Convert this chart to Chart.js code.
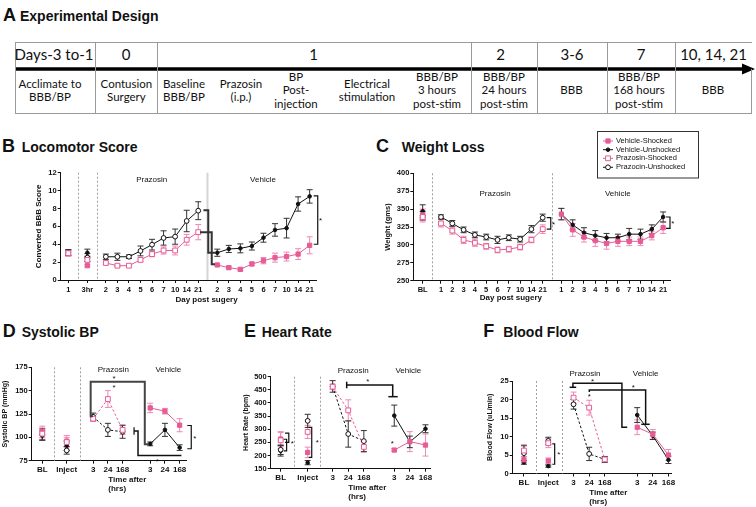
<!DOCTYPE html>
<html><head><meta charset="utf-8">
<script src="https://cdn.jsdelivr.net/npm/chart.js@4.4.0/dist/chart.umd.min.js"></script>
<style>
html,body{margin:0;padding:0;background:#fff;}
body{width:756px;height:507px;position:relative;overflow:hidden;font-family:"Liberation Sans",Arial,sans-serif;color:#111;}
.pl{position:absolute;font-weight:bold;font-size:18px;line-height:20px;white-space:nowrap;}
.pn{position:absolute;font-weight:bold;font-size:14px;line-height:20px;white-space:nowrap;}
.ln{position:absolute;background:#9a9a9a;}
.cell{position:absolute;display:flex;align-items:center;justify-content:center;text-align:center;font-family:Lato,"Liberation Sans",sans-serif;color:#111;}
canvas{position:absolute;}
</style></head><body>
<div class="pl" style="left:3px;top:4.8px">A</div><div class="pn" style="left:20px;top:6.2px">Experimental Design</div>
<div class="pl" style="left:2px;top:135.8px">B</div><div class="pn" style="left:21.7px;top:137.2px">Locomotor Score</div>
<div class="pl" style="left:376px;top:135.8px">C</div><div class="pn" style="left:401.7px;top:137.2px">Weight Loss</div>
<div class="pl" style="left:2.7px;top:320.8px">D</div><div class="pn" style="left:21.7px;top:322.2px">Systolic BP</div>
<div class="pl" style="left:244px;top:320.8px">E</div><div class="pn" style="left:261.7px;top:322.2px">Heart Rate</div>
<div class="pl" style="left:483.3px;top:320.8px">F</div><div class="pn" style="left:503.3px;top:322.2px">Blood Flow</div>
<svg style="position:absolute;left:0;top:0" width="756" height="120">
<line x1="15" y1="69" x2="744" y2="69" stroke="#000" stroke-width="3.5"/>
<polygon points="742,63.5 755,69 742,74.5" fill="#000"/>
</svg>
<script>
// ================= DATA =================
// Panel A timeline
const tlTop = ['Days-3 to-1','0','1','2','3-6','7','10, 14, 21'];
const tlBottom = ['Acclimate to<br>BBB/BP','Contusion<br>Surgery','Baseline<br>BBB/BP','Prazosin<br>(i.p.)','BP<br>Post-<br>injection','Electrical<br>stimulation','BBB/BP<br>3 hours<br>post-stim','BBB/BP<br>24 hours<br>post-stim','BBB','BBB/BP<br>168 hours<br>post-stim','BBB'];

// Legend
const seriesNames = ['Vehicle-Shocked','Vehicle-Unshocked','Prazosin-Shocked','Prazocin-Unshocked'];

// Panel B: Converted BBB score
const bBaseLabels = ['1','3hr'];
const bDayLabels = ['2','3','4','5','6','7','10','14','21'];
const bVehShkBase = [3.0, 1.6];   const bVehShkBaseErr = [0.35, 0.12];
const bVehUnBase  = [3.1, 3.05];  const bVehUnBaseErr  = [0.3, 0.4];
const bPrzShkBase = [3.0, 2.25];  const bPrzShkBaseErr = [0.3, 0.2];
const bPrzUnBase  = [3.05, 2.5];  const bPrzUnBaseErr  = [0.3, 0.45];
const bPrzUn  = [2.6, 2.6, 2.6, 3.25, 3.95, 4.7, 4.85, 6.6, 7.75];
const bPrzUnErr  = [0.3, 0.4, 0.2, 0.55, 0.6, 0.8, 0.85, 1.2, 1.0];
const bPrzShk = [1.9, 1.6, 1.6, 2.25, 2.9, 3.3, 3.3, 4.5, 5.35];
const bPrzShkErr = [0.15, 0.1, 0.1, 0.2, 0.3, 0.4, 0.5, 0.6, 0.85];
const bVehUn  = [3.05, 3.47, 3.54, 3.8, 4.73, 5.6, 5.8, 8.5, 9.35];
const bVehUnErr  = [0.4, 0.4, 0.5, 0.45, 0.5, 0.7, 1.1, 0.8, 0.75];
const bVehShk = [1.68, 1.38, 1.19, 1.79, 2.16, 2.5, 2.62, 2.9, 3.88];
const bVehShkErr = [0.1, 0.15, 0.15, 0.2, 0.35, 0.5, 0.5, 0.6, 0.95];

// Panel C: Weight (gms)
const cBaseLabels = ['BL'];
const cDayLabels = ['1','2','3','4','5','6','7','10','14','21'];
const cVehShkBase = [342]; const cVehShkBaseErr = [8];
const cVehUnBase  = [347]; const cVehUnBaseErr  = [9];
const cPrzShkBase = [339]; const cPrzShkBaseErr = [7];
const cPrzUnBase  = [341]; const cPrzUnBaseErr  = [6];
const cPrzUn  = [339, 330, 321, 314, 311, 307, 310, 308, 322, 338];
const cPrzUnErr  = [3, 4, 4, 4, 4, 5, 4, 4, 5, 5];
const cPrzShk = [330, 320, 307, 303, 298, 293, 294, 297, 307, 322];
const cPrzShkErr = [5, 5, 5, 5, 4, 4, 4, 4, 4, 6];
const cVehUn  = [343, 328, 317, 313, 310, 310, 315, 315, 322, 339];
const cVehUnErr  = [8, 7, 7, 7, 6, 5, 8, 7, 6, 7];
const cVehShk = [343, 321, 311, 306, 302, 305, 305, 305, 313, 324];
const cVehShkErr = [8, 9, 7, 8, 8, 7, 6, 6, 6, 8];

// Shared labels for D, E, F
const hBaseLabels = ['BL','Inject'];
const hLabels = ['3','24','168'];

// Panel D: Systolic BP (mmHg)
const dVehShkBase = [106, 96];  const dVehShkBaseErr = [6, 6];
const dVehUnBase  = [102, 91];  const dVehUnBaseErr  = [5, 5];
const dPrzShkBase = [104, 95];  const dPrzShkBaseErr = [6, 5];
const dPrzUnBase  = [103, 86];  const dPrzUnBaseErr  = [6, 4];
const dPrzUn  = [122, 108, 106]; const dPrzUnErr  = [4, 7, 7];
const dPrzShk = [120, 141, 108]; const dPrzShkErr = [3, 9, 5];
const dVehShk = [131.5, 128, 113]; const dVehShkErr = [5, 3, 7];
const dVehUn  = [93, 108, 89];   const dVehUnErr  = [2, 7, 3];

// Panel E: Heart Rate (bpm)
const eVehShkBase = [263, 212]; const eVehShkBaseErr = [28, 20];
const eVehUnBase  = [218, 173]; const eVehUnBaseErr  = [20, 8];
const ePrzShkBase = [258, 290]; const ePrzShkBaseErr = [30, 25];
const ePrzUnBase  = [222, 332]; const ePrzUnBaseErr  = [18, 25];
const ePrzUn  = [463, 282, 255]; const ePrzUnErr  = [22, 50, 40];
const ePrzShk = [462, 372, 233]; const ePrzShkErr = [10, 40, 20];
const eVehUn  = [352, 252, 302]; const eVehUnErr  = [40, 22, 15];
const eVehShk = [221, 253, 240]; const eVehShkErr = [5, 38, 42];

// Panel F: Blood Flow (uL/min)
const fVehShkBase = [3.7, 3.4]; const fVehShkBaseErr = [0.8, 0.8];
const fVehUnBase  = [3.0, 2.0]; const fVehUnBaseErr  = [0.5, 0.3];
const fPrzShkBase = [6.2, 8.2]; const fPrzShkBaseErr = [1.6, 1.2];
const fPrzUnBase  = [5.5, 8.8]; const fPrzUnBaseErr  = [2.0, 1.0];
const fPrzUn  = [18.7, 5.3, 3.8];  const fPrzUnErr  = [1.3, 1.8, 0.8];
const fPrzShk = [20.5, 17.8, 3.8]; const fPrzShkErr = [1.5, 2.0, 0.6];
const fVehUn  = [15.8, 10.2, 3.7]; const fVehUnErr  = [2.0, 1.0, 1.0];
const fVehShk = [12.5, 10.6, 5.0]; const fVehShkErr = [2.0, 1.3, 1.5];

// ================= PANEL A (layout) =================
(function(){
  const b = document.body;
  function ln(l,t,w,h){const d=document.createElement('div');d.className='ln';d.style.cssText=`left:${l}px;top:${t}px;width:${w}px;height:${h}px`;b.appendChild(d);}
  ln(15,42,737,1); ln(15,113,737,1);
  [15,95,157,470.5,536.5,606.5,675].forEach(x=>ln(x,42,1,71));
  ln(751,69,1,45);
  const topC = [54,126,313.5,500.5,572,641,713.5];
  tlTop.forEach((t,i)=>{const d=document.createElement('div');d.className='cell';
    d.style.cssText=`left:${topC[i]-45}px;top:42px;width:90px;height:23px;font-size:15px;line-height:16px;`;d.textContent=t;b.appendChild(d);});
  const botC = [50,126.4,184,241,296,367,437,504,571.5,639,713];
  tlBottom.forEach((t,i)=>{const d=document.createElement('div');d.className='cell';
    d.style.cssText=`left:${botC[i]-36}px;top:69px;width:72px;height:42px;font-size:11.5px;line-height:13.5px;`;d.innerHTML=t;b.appendChild(d);});
})();

// ================= CHART HELPERS =================
Chart.defaults.font.family = '"Liberation Sans", Arial, sans-serif';
Chart.defaults.color = '#111';
const PINK = '#e75b96', PINK_ERR = '#ee8ab4', BLACK = '#111111';
const STY = {
  vehShk:{c:PINK, ec:PINK_ERR, ps:'rect', r:3, fill:PINK},
  vehUn:{c:BLACK, ec:'#333', ps:'circle', r:1.8, fill:BLACK},
  przShk:{c:PINK, ec:PINK_ERR, ps:'rect', r:3.4, fill:'#fff'},
  przUn:{c:BLACK, ec:'#333', ps:'circle', r:2.4, fill:'#fff'}
};
const EXTRAS = {};
function buildPts(basePos, baseVals, baseErrs, grpStart, vals, errs){
  const pts=[], es=[];
  basePos.forEach((p,i)=>{pts.push({x:p,y:baseVals[i]});es.push(baseErrs[i]);pts.push({x:p+0.05,y:null});es.push(null);});
  vals.forEach((v,i)=>{pts.push({x:grpStart+i,y:v});es.push(errs[i]);});
  return [pts,es];
}
function mk(label, kind, built, dashed){
  const s=STY[kind];
  return {label, data:built[0], errs:built[1], errColor:s.ec, borderColor:s.c, borderWidth:1,
    borderDash: dashed?[2.5,2]:[], pointStyle:s.ps, pointRadius:s.r, pointHoverRadius:s.r,
    pointBorderColor:s.c, pointBackgroundColor:s.fill, pointBorderWidth:1, spanGaps:false, fill:false, tension:0};
}
function drawMarker(ctx, kind, x, y){
  const s=STY[kind]; ctx.save(); ctx.fillStyle=s.fill; ctx.strokeStyle=s.c; ctx.lineWidth=1; ctx.beginPath();
  if(s.ps==='rect'){const h=s.r*Math.SQRT1_2; ctx.rect(x-h,y-h,2*h,2*h);} else {ctx.arc(x,y,s.r,0,Math.PI*2);}
  ctx.fill(); ctx.stroke(); ctx.restore();
}
const extrasPlugin = {
  id:'extras',
  beforeDatasetsDraw(chart){
    const o = EXTRAS[chart.canvas.id]; const {ctx, chartArea:a, scales:{x,y}} = chart;
    ctx.save();
    (o.seps||[]).forEach(s=>{const px=Math.round(x.getPixelForValue(s.x))+0.5; ctx.beginPath(); ctx.strokeStyle=s.color||'#a0a0a0'; ctx.lineWidth=s.w||1; ctx.setLineDash(s.dash||[]); ctx.moveTo(px,a.top); ctx.lineTo(px,a.bottom); ctx.stroke();});
    ctx.setLineDash([]);
    chart.data.datasets.forEach(ds=>{
      ctx.strokeStyle=ds.errColor; ctx.lineWidth=1;
      ds.data.forEach((p,i)=>{const e=ds.errs[i]; if(p.y==null||e==null) return;
        const px=x.getPixelForValue(p.x), y1=y.getPixelForValue(p.y-e), y2=y.getPixelForValue(p.y+e);
        ctx.beginPath(); ctx.moveTo(px,y1); ctx.lineTo(px,y2); ctx.moveTo(px-3,y1); ctx.lineTo(px+3,y1); ctx.moveTo(px-3,y2); ctx.lineTo(px+3,y2); ctx.stroke();});
    });
    ctx.restore();
  },
  afterDatasetsDraw(chart){
    const o = EXTRAS[chart.canvas.id]; const {ctx, chartArea:a, scales:{x,y}} = chart;
    ctx.save();
    (o.brackets||[]).forEach(b=>{ctx.beginPath(); ctx.strokeStyle=b.color||'#111'; ctx.lineWidth=b.w||1.2; ctx.lineJoin='miter';
      b.pts.forEach((p,i)=>{const px=x.getPixelForValue(p[0]), py=y.getPixelForValue(p[1]); if(i) ctx.lineTo(px,py); else ctx.moveTo(px,py);}); ctx.stroke();});
    ctx.fillStyle='#111'; ctx.textAlign='center'; ctx.textBaseline='middle';
    ctx.font='8px "Liberation Sans", Arial, sans-serif';
    (o.stars||[]).forEach(s=>ctx.fillText('*', x.getPixelForValue(s[0]), y.getPixelForValue(s[1])+2));
    ctx.font='8px "Liberation Sans", Arial, sans-serif';
    (o.labels||[]).forEach(l=>ctx.fillText(l.t, x.getPixelForValue(l.x), a.top+l.dy));
    ctx.font='bold 8px "Liberation Sans", Arial, sans-serif';
    (o.xtitles||[]).forEach(l=>{ctx.textAlign=l.align||'center'; ctx.fillText(l.t, x.getPixelForValue(l.x), a.bottom+l.dy);});
    if(o.legend){const L=o.legend; ctx.strokeStyle='#333'; ctx.lineWidth=1; ctx.strokeRect(L.box[0]+0.5,L.box[1]+0.5,L.box[2],L.box[3]);
      ctx.font='7.5px "Liberation Sans", Arial, sans-serif'; ctx.textAlign='left'; ctx.textBaseline='middle';
      L.rows.forEach(r=>{const s=STY[r.kind]; ctx.beginPath(); ctx.strokeStyle=s.c; ctx.lineWidth=1; ctx.moveTo(L.mx0,r.y); ctx.lineTo(L.mx1,r.y); ctx.stroke();
        drawMarker(ctx,r.kind,(L.mx0+L.mx1)/2,r.y); ctx.fillStyle='#111'; ctx.fillText(r.t,L.tx,r.y);});
    }
    ctx.restore();
  }
};
function place(id,l,t,w,h){const c=document.createElement('canvas');c.id=id;c.width=w;c.height=h;c.style.cssText=`left:${l}px;top:${t}px;width:${w}px;height:${h}px`;document.body.appendChild(c);return c;}
function axisGrid(){return {display:true, drawOnChartArea:false, drawTicks:true, tickLength:3, color:'#111', lineWidth:1};}
function makeChart(cv, cfg){
  EXTRAS[cv.id]=cfg.extras;
  return new Chart(cv,{type:'line', data:{datasets:cfg.datasets},
    options:{responsive:false, maintainAspectRatio:false, animation:false, devicePixelRatio:1,
      layout:{padding:cfg.pad}, events:[],
      plugins:{legend:{display:false}, tooltip:{enabled:false}},
      scales:{
        x:{type:'linear', bounds:'data', min:cfg.xmin, max:cfg.xmax,
          afterBuildTicks:s=>{s.ticks=cfg.xPos.map(v=>({value:v}));},
          afterFit:s=>{s.height=cfg.xH; s.paddingLeft=0; s.paddingRight=0;},
          ticks:{autoSkip:false, maxRotation:0, minRotation:0, padding:cfg.xPad, color:'#111', font:{size:cfg.xFont, weight:'bold'}, callback:(v,i)=>cfg.xLbl[i]},
          grid:axisGrid(), border:{display:true, color:'#111', width:1}},
        y:{type:'linear', min:cfg.ymin, max:cfg.ymax,
          afterFit:s=>{s.width=cfg.yW; s.paddingTop=0; s.paddingBottom=0;},
          ticks:{stepSize:cfg.ystep, padding:1, color:'#111', font:{size:cfg.yFont, weight:'bold'}},
          grid:axisGrid(), border:{display:true, color:'#111', width:1},
          title:{display:true, text:cfg.yTitle, color:'#111', font:{size:cfg.yTitleFont, weight:'bold'}, padding:{top:cfg.yTitlePad, bottom:0}}}
      }},
    plugins:[extrasPlugin]});
}
function series4(basePos, prz, veh, d, dashPrz){
  return [
    mk(seriesNames[2],'przShk',buildPts(basePos,d.przShkB,d.przShkBE,prz,d.przShk,d.przShkE),dashPrz),
    mk(seriesNames[0],'vehShk',buildPts(basePos,d.vehShkB,d.vehShkBE,veh,d.vehShk,d.vehShkE),false),
    mk(seriesNames[3],'przUn',buildPts(basePos,d.przUnB,d.przUnBE,prz,d.przUn,d.przUnE),dashPrz),
    mk(seriesNames[1],'vehUn',buildPts(basePos,d.vehUnB,d.vehUnBE,veh,d.vehUn,d.vehUnE),false)
  ];
}
function range(start,n){return Array.from({length:n},(_, i)=>start+i);}

// ================= PANEL B =================
{
  const basePos=[0,1.65], prz=3.25, veh=12.9;
  makeChart(place('cB',0,160,340,150),{
    datasets:series4(basePos,prz,veh,{vehShkB:bVehShkBase,vehShkBE:bVehShkBaseErr,vehUnB:bVehUnBase,vehUnBE:bVehUnBaseErr,przShkB:bPrzShkBase,przShkBE:bPrzShkBaseErr,przUnB:bPrzUnBase,przUnBE:bPrzUnBaseErr,
      przUn:bPrzUn,przUnE:bPrzUnErr,przShk:bPrzShk,przShkE:bPrzShkErr,vehUn:bVehUn,vehUnE:bVehUnErr,vehShk:bVehShk,vehShkE:bVehShkErr},false),
    pad:{left:33,top:12.7,right:24,bottom:0}, yW:27.7, xH:30, xPad:2.5, xFont:7.5, yFont:7.5,
    xmin:-0.66, xmax:21.45, xPos:[...basePos,...range(prz,9),...range(veh,9)], xLbl:[...bBaseLabels,...bDayLabels,...bDayLabels],
    ymin:0, ymax:12, ystep:1, yTitle:'Converted BBB Score', yTitleFont:8, yTitlePad:0.5,
    extras:{
      seps:[{x:0.84,dash:[2,2]},{x:2.51,dash:[2,2]},{x:12.03,w:2,color:'#d4d4d4'}],
      brackets:[{pts:[[11.7,7.8],[12.12,7.8],[12.12,3.05],[12.7,3.05]],w:2,color:'#333'},
                {pts:[[11.4,5.35],[12.42,5.35],[12.42,1.75],[12.7,1.75]],w:2,color:'#333'},
                {pts:[[21.25,9.4],[21.6,9.4],[21.6,4.0],[21.25,4.0]],w:1.2}],
      stars:[[21.85,6.9]],
      labels:[{t:'Prazosin',x:7.22,dy:7.3},{t:'Vehicle',x:16.86,dy:7.3}],
      xtitles:[{t:'Day post sugery',x:11.97,dy:19.3}]
    }});
}
// ================= PANEL C =================
{
  const basePos=[0], prz=1.62, veh=12.27, ox=375, oy=125;
  makeChart(place('cC',ox,oy,330,185),{
    datasets:series4(basePos,prz,veh,{vehShkB:cVehShkBase,vehShkBE:cVehShkBaseErr,vehUnB:cVehUnBase,vehUnBE:cVehUnBaseErr,przShkB:cPrzShkBase,przShkBE:cPrzShkBaseErr,przUnB:cPrzUnBase,przUnBE:cPrzUnBaseErr,
      przUn:cPrzUn,przUnE:cPrzUnErr,przShk:cPrzShk,przShkE:cPrzShkErr,vehUn:cVehUn,vehUnE:cVehUnErr,vehShk:cVehShk,vehShkE:cVehShkErr},false),
    pad:{left:8,top:48.3,right:35,bottom:0}, yW:30.3, xH:29.3, xPad:1.8, xFont:7.5, yFont:7.5,
    xmin:-0.83, xmax:21.88, xPos:[...basePos,...range(prz,10),...range(veh,10)], xLbl:[...cBaseLabels,...cDayLabels,...cDayLabels],
    ymin:250, ymax:400, ystep:25, yTitle:'Weight (gms)', yTitleFont:7.5, yTitlePad:0.8,
    extras:{
      seps:[{x:0.85,dash:[2,2]},{x:11.47,dash:[2,2]}],
      brackets:[{pts:[[10.97,338],[11.33,338],[11.33,322],[10.97,322]],w:1.2},{pts:[[21.53,339],[21.88,339],[21.88,323],[21.53,323]],w:1.2}],
      stars:[[11.58,331],[22.12,332]],
      labels:[{t:'Prazosin',x:6.4,dy:20},{t:'Vehicle',x:17.26,dy:20}],
      xtitles:[{t:'Day post sugery',x:7.8,dy:16.6}],
      legend:{box:[597-ox,131-oy,101,46.5], mx0:603-ox, mx1:613-ox, tx:616-ox,
        rows:[{t:seriesNames[0],kind:'vehShk',y:141-oy},{t:seriesNames[1],kind:'vehUn',y:149.7-oy},{t:seriesNames[2],kind:'przShk',y:158.3-oy},{t:seriesNames[3],kind:'przUn',y:167.3-oy}]}
    }});
}
// ================= PANEL D =================
{
  const basePos=[0,1.66], prz=3.46, veh=7.34;
  makeChart(place('cD',0,355,215,152),{
    datasets:series4(basePos,prz,veh,{vehShkB:dVehShkBase,vehShkBE:dVehShkBaseErr,vehUnB:dVehUnBase,vehUnBE:dVehUnBaseErr,przShkB:dPrzShkBase,przShkBE:dPrzShkBaseErr,przUnB:dPrzUnBase,przUnBE:dPrzUnBaseErr,
      przUn:dPrzUn,przUnE:dPrzUnErr,przShk:dPrzShk,przShkE:dPrzShkErr,vehUn:dVehUn,vehUnE:dVehUnErr,vehShk:dVehShk,vehShkE:dVehShkErr},true),
    pad:{left:0,top:12.3,right:28.3,bottom:0}, yW:31.7, xH:46.3, xPad:0.8, xFont:8, yFont:7.5,
    xmin:-0.72, xmax:9.82, xPos:[...basePos,...range(prz,3),...range(veh,3)], xLbl:[...hBaseLabels,...hLabels,...hLabels],
    ymin:75, ymax:175, ystep:25, yTitle:'Systolic BP (mmHg)', yTitleFont:7, yTitlePad:0.8,
    extras:{
      seps:[{x:0.82,dash:[2,2]},{x:2.56,dash:[2,2]}],
      brackets:[{pts:[[3.45,122.6],[3.29,122.6],[3.29,159.6],[6.97,159.6],[6.97,92.6],[7.24,92.6]],w:2,color:'#444'},
                {pts:[[6.24,110.9],[6.24,102.8]],w:1.2},
                {pts:[[6.24,106.9],[6.51,106.9],[6.51,80.5],[9.46,80.5]],w:1.5},
                {pts:[[9.86,112.7],[10.13,112.7],[10.13,87.8],[9.86,87.8]],w:1.2}],
      stars:[[4.88,165],[4.88,155.6],[7.82,76.1],[10.37,100.6]],
      labels:[{t:'Prazosin',x:4.83,dy:2},{t:'Vehicle',x:8.57,dy:2}],
      xtitles:[{t:'Time after',x:4.49,dy:18.6,align:'left'},{t:'(hrs)',x:4.49,dy:27.6,align:'left'}]
    }});
}
// ================= PANEL E =================
{
  const basePos=[0,1.73], prz=3.33, veh=7.28;
  makeChart(place('cE',240,355,215,152),{
    datasets:series4(basePos,prz,veh,{vehShkB:eVehShkBase,vehShkBE:eVehShkBaseErr,vehUnB:eVehUnBase,vehUnBE:eVehUnBaseErr,przShkB:ePrzShkBase,przShkBE:ePrzShkBaseErr,przUnB:ePrzUnBase,przUnBE:ePrzUnBaseErr,
      przUn:ePrzUn,przUnE:ePrzUnErr,przShk:ePrzShk,przShkE:ePrzShkErr,vehUn:eVehUn,vehUnE:eVehUnErr,vehShk:eVehShk,vehShkE:eVehShkErr},true),
    pad:{left:1,top:21.7,right:25,bottom:0}, yW:29.7, xH:38.3, xPad:1.2, xFont:8, yFont:7.5,
    xmin:-0.64, xmax:9.57, xPos:[...basePos,...range(prz,3),...range(veh,3)], xLbl:[...hBaseLabels,...hLabels,...hLabels],
    ymin:150, ymax:500, ystep:50, yTitle:'Heart Rate (bpm)', yTitleFont:7, yTitlePad:0.8,
    extras:{
      seps:[{x:0.87,dash:[2,2]},{x:2.52,dash:[2,2]}],
      brackets:[{pts:[[0.28,285],[0.52,285],[0.52,250],[0.28,250]],w:1.2},
                {pts:[[0.2,262],[0.38,262],[0.38,218],[0.2,218]],w:1.2},
                {pts:[[1.8,307],[1.99,307],[1.99,193],[1.8,193]],w:1.2},
                {pts:[[4.23,481],[4.23,456]],w:1.5},
                {pts:[[4.23,468],[7.18,468],[7.18,424]],w:1.5},
                {pts:[[6.9,424],[7.5,424]],w:1.5}],
      stars:[[0.75,253],[2.35,256],[5.58,490],[7.15,252]],
      labels:[{t:'Prazosin',x:4.65,dy:-5.7},{t:'Vehicle',x:8.18,dy:-5.7}],
      xtitles:[{t:'Time after',x:4.33,dy:19,align:'left'},{t:'(hrs)',x:4.33,dy:28,align:'left'}]
    }});
}
// ================= PANEL F =================
{
  const basePos=[0,1.56], prz=3.18, veh=7.26;
  makeChart(place('cF',484,355,215,152),{
    datasets:series4(basePos,prz,veh,{vehShkB:fVehShkBase,vehShkBE:fVehShkBaseErr,vehUnB:fVehUnBase,vehUnBE:fVehUnBaseErr,przShkB:fPrzShkBase,przShkBE:fPrzShkBaseErr,przUnB:fPrzUnBase,przUnBE:fPrzUnBaseErr,
      przUn:fPrzUn,przUnE:fPrzUnErr,przShk:fPrzShk,przShkE:fPrzShkErr,vehUn:fVehUn,vehUnE:fVehUnErr,vehShk:fVehShk,vehShkE:fVehShkErr},true),
    pad:{left:1,top:26,right:27.3,bottom:0}, yW:27.7, xH:33.5, xPad:1.4, xFont:8, yFont:7.5,
    xmin:-0.72, xmax:9.47, xPos:[...basePos,...range(prz,3),...range(veh,3)], xLbl:[...hBaseLabels,...hLabels,...hLabels],
    ymin:0, ymax:25, ystep:5, yTitle:'Blood Flow (uL/min)', yTitleFont:7, yTitlePad:0.8,
    extras:{
      seps:[{x:0.75,dash:[2,2]},{x:2.42,dash:[2,2]}],
      brackets:[{pts:[[1.82,8.0],[1.97,8.0],[1.97,2.5],[1.82,2.5]],w:1.2},
                {pts:[[2.93,23.3],[3.35,23.3]],w:1.5},
                {pts:[[3.14,23.3],[3.14,24.4],[6.28,24.4],[6.28,12.5],[6.62,12.5]],w:1.5},
                {pts:[[4.19,22.0],[4.19,22.6],[7.8,22.6],[7.8,13.3]],w:1.5},
                {pts:[[7.52,13.3],[8.06,13.3]],w:1.5}],
      stars:[[2.24,5.7],[4.4,25.3],[4.19,21.3],[7.01,23.7]],
      labels:[{t:'Prazosin',x:3.91,dy:-7.7},{t:'Vehicle',x:7.8,dy:-7.7}],
      xtitles:[{t:'Time after',x:4.19,dy:19.2,align:'left'},{t:'(hrs)',x:4.19,dy:28.2,align:'left'}]
    }});
}
</script>
</body></html>
